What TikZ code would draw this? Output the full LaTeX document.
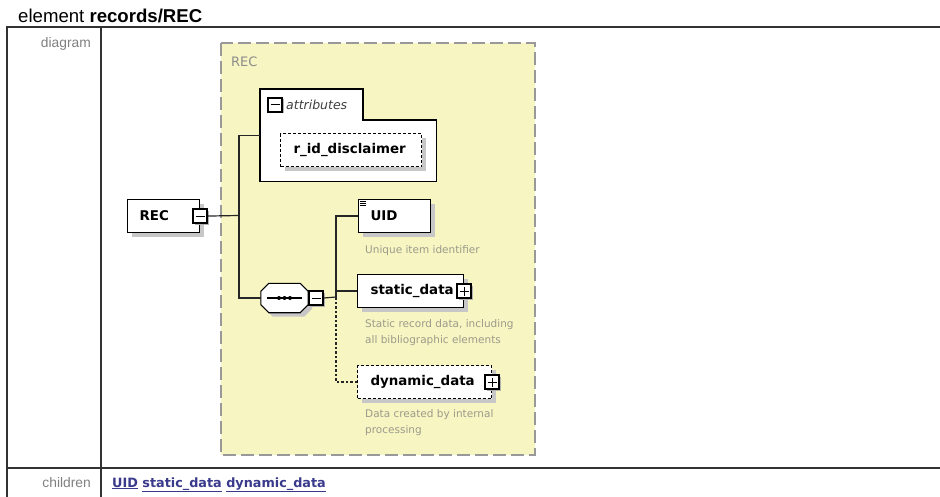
\documentclass[tikz,border=0pt]{standalone}
\usepackage{fontspec}
\setmainfont{Liberation Sans}
\newfontfamily\dvsans{DejaVu Sans}
\usetikzlibrary{shadows}

\definecolor{recyellow}{RGB}{247,245,193}
\definecolor{descgray}{RGB}{155,155,140}
\definecolor{linkblue}{RGB}{58,58,140}
\definecolor{rulegray}{RGB}{50,50,50}

\begin{document}
\begin{tikzpicture}[x=1pt,y=-1pt,
    elem/.style={draw=black, line width=1.1pt, fill=white, anchor=north west,
      inner xsep=12pt, inner ysep=0pt, minimum height=33pt, text width=48pt, align=left,
      font=\dvsans\bfseries\fontsize{13.4}{15}\selectfont,
      general shadow={fill=black!22, shadow xshift=4pt, shadow yshift=-4pt}},
    optelem/.style={elem, dash pattern=on 3pt off 2pt},
    tog/.style={draw=black, line width=1.5pt, fill=white, minimum size=14pt, inner sep=0pt,
      general shadow={fill=black!30, shadow xshift=1.5pt, shadow yshift=-1.5pt}},
    minus/.style={tog, path picture={
      \draw[line width=1pt] ([xshift=2.5pt]path picture bounding box.west)
        -- ([xshift=-2.5pt]path picture bounding box.east);}},
    plus/.style={tog, path picture={
      \draw[line width=1pt] ([xshift=2.5pt]path picture bounding box.west)
        -- ([xshift=-2.5pt]path picture bounding box.east);
      \draw[line width=1pt] ([yshift=-2.5pt]path picture bounding box.north)
        -- ([yshift=2.5pt]path picture bounding box.south);}},
    desc/.style={anchor=north west, inner sep=0pt, align=left, text=descgray,
      font=\dvsans\fontsize{10.5}{16}\selectfont},
    wire/.style={draw=black!85, line width=1.2pt},
    rule/.style={draw=rulegray, line width=1.4pt},
    rowlabel/.style={anchor=base east, inner sep=0pt, text=black!50,
      font=\fontsize{13.8}{15}\selectfont}]

  \useasboundingbox (0,0) rectangle (940,497);

  % heading and table
  \node[anchor=base west, inner sep=0pt, font=\fontsize{18.6}{20}\selectfont] (title) at (18,23)
    {element \textbf{records/REC}};
  \draw[rule] (7,497) -- (7,27) -- (940,27);
  \draw[rule] (101,27) -- (101,497);
  \draw[rule] (7,468) -- (940,468);
  \node[rowlabel] (diag) at (91,48) {diagram};
  \node[rowlabel] (kids) at (91,487) {children};
  \node[anchor=base west, inner sep=0pt, text=linkblue,
    font=\dvsans\bfseries\fontsize{12.8}{15}\selectfont] (links) at (112,487)
    {\underline{UID} \underline{static\_data} \underline{dynamic\_data}};

  % complex type area
  \draw[fill=recyellow, draw=black!40, line width=1.6pt, dash pattern=on 13pt off 5pt]
    (221,43) rectangle (535,455);
  \node[anchor=base west, inner sep=0pt, text=black!45,
    font=\dvsans\fontsize{13}{15}\selectfont] (grp) at (231,67) {REC};

  % attributes box with its tab
  \node[anchor=north west, inner sep=0pt, minimum width=176pt, minimum height=92pt] (attr) at (260,89) {};
  \draw[fill=white, line width=1.1pt] (attr.north west) -- ++(103,0) -- ++(0,31)
    -| (attr.south east) -- (attr.south west) -- cycle;
  \node[minus] (attrm) at (275,105) {};
  \node[anchor=west, inner sep=0pt, text=black!75,
    font=\dvsans\itshape\fontsize{12.5}{15}\selectfont] (attrt) at (286,105) {attributes};
  \node[optelem, text width=115pt, inner xsep=13pt] (rid) at (280,133) {r\_id\_disclaimer};

  % element and its children
  \node[elem] (rec) at (127,199) {REC};
  \node[minus] (recm) at (rec.east) {};

  % sequence compositor, an octagon round a plain node
  \node[minimum width=47pt, minimum height=29pt, inner sep=0pt] (seq) at (284.5,298) {};
  \draw[fill=white, line width=1.1pt,
    general shadow={fill=black!22, shadow xshift=4pt, shadow yshift=-4pt}]
    ([shift={(8,0)}]seq.north west) -- ([shift={(-8,0)}]seq.north east)
    -- ([shift={(0,8)}]seq.north east) -- ([shift={(0,-8)}]seq.south east)
    -- ([shift={(-8,0)}]seq.south east) -- ([shift={(8,0)}]seq.south west)
    -- ([shift={(0,-8)}]seq.south west) -- ([shift={(0,8)}]seq.north west) -- cycle;
  \draw[line width=1.1pt] ([xshift=6pt]seq.west) -- ([xshift=-6pt]seq.east);
  \foreach \dx in {-5.5,0,5.5}
    \fill ([xshift=\dx pt]seq.center) circle (2pt);
  \node[minus] (seqm) at ([xshift=8pt]seq.east) {};

  \node[elem] (uid) at (358,199) {UID};
  \foreach \dy in {2.5,4.5,6.5}
    \draw[line width=0.8pt] ([shift={(2,\dy)}]uid.north west) -- ++(6,0);
  \node[elem, text width=80pt, inner xsep=13pt] (stat) at (357,274) {static\_data};
  \node[plus] (statp) at (stat.east) {};
  \node[optelem, text width=108pt, inner xsep=13pt] (dyn) at (357,365) {dynamic\_data};
  \node[plus] (dynp) at (dyn.east) {};

  \node[desc] (uidd) at (365,245) {Unique item identifier};
  \node[desc] (statd) at (365,319) {Static record data, including\\all bibliographic elements};
  \node[desc] (dynd) at (365,409) {Data created by internal\\processing};

  % connectors
  \coordinate (j1) at (239,215.5);
  \coordinate (j2) at (336,297);
  \draw[wire] (recm.east) -- (j1);
  \draw[wire] (attr.west) -| (j1) |- (seq.west);
  \draw[wire] (seqm.east) -- (j2);
  \draw[wire] (uid.west) -| (j2);
  \draw[wire] (stat.west) -- (stat.west -| j2);
  \draw[wire, dash pattern=on 2.5pt off 2pt] (dyn.west) -| (j2);
\end{tikzpicture}
\end{document}
